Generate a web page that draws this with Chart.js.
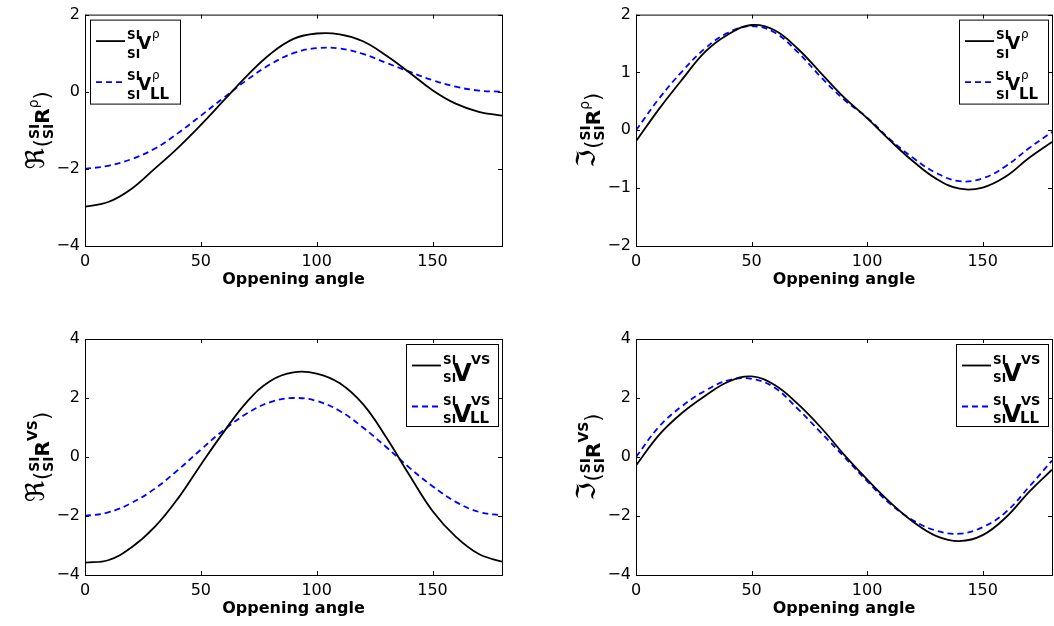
<!DOCTYPE html>
<html>
<head>
<meta charset="utf-8">
<script src="https://cdn.jsdelivr.net/npm/chart.js@4.4.1/dist/chart.umd.min.js"></script>
<style>
    html, body { margin: 0; padding: 0; background: #fff; width: 1054px; height: 626px; overflow: hidden; }
    canvas { position: absolute; }
</style>
</head>
<body>
<canvas id="reRho" width="527" height="313" style="left:0;top:0"></canvas>
<canvas id="imRho" width="527" height="313" style="left:527px;top:0"></canvas>
<canvas id="reVs" width="527" height="313" style="left:0;top:313px"></canvas>
<canvas id="imVs" width="527" height="313" style="left:527px;top:313px"></canvas>
<script>
// Opening angle samples (degrees)
const angles = [0, 10, 20, 30, 40, 50, 60, 70, 80, 90, 100, 110, 120, 130, 140, 150, 160, 170, 180];

// rho channel, real part
const reRhoFull = [-2.98, -2.86, -2.52, -2.0, -1.46, -0.86, -0.22, 0.42, 0.98, 1.37, 1.51, 1.49, 1.31, 0.94, 0.50, 0.04, -0.31, -0.52, -0.62];
const reRhoLL   = [-2.0, -1.92, -1.75, -1.48, -1.08, -0.62, -0.15, 0.31, 0.71, 1.0, 1.13, 1.12, 0.98, 0.75, 0.52, 0.30, 0.13, 0.03, 0.0];
// rho channel, imaginary part
const imRhoFull = [-0.19, 0.37, 0.88, 1.36, 1.66, 1.82, 1.73, 1.41, 0.99, 0.57, 0.21, -0.18, -0.54, -0.84, -1.01, -0.99, -0.80, -0.48, -0.20];
const imRhoLL   = [0.0, 0.55, 1.02, 1.42, 1.69, 1.80, 1.69, 1.35, 0.92, 0.53, 0.22, -0.16, -0.48, -0.74, -0.88, -0.83, -0.62, -0.31, -0.03];
// VS channel, real part
const reVsFull = [-3.58, -3.50, -3.07, -2.38, -1.42, -0.26, 0.86, 1.88, 2.58, 2.87, 2.83, 2.50, 1.79, 0.67, -0.61, -1.83, -2.70, -3.29, -3.55];
const reVsLL   = [-2.0, -1.88, -1.56, -1.08, -0.45, 0.25, 0.92, 1.48, 1.86, 2.0, 1.90, 1.56, 1.0, 0.34, -0.36, -0.99, -1.52, -1.86, -1.98];
// VS channel, imaginary part
const imVsFull = [-0.29, 0.75, 1.50, 2.08, 2.55, 2.73, 2.44, 1.80, 1.0, 0.08, -0.76, -1.54, -2.20, -2.68, -2.85, -2.65, -2.05, -1.19, -0.43];
const imVsLL   = [0.0, 1.03, 1.73, 2.25, 2.60, 2.65, 2.35, 1.63, 0.83, 0.01, -0.82, -1.59, -2.15, -2.50, -2.60, -2.38, -1.87, -1.02, -0.12];

// Tick labels
const xTicks = [0, 50, 100, 150];
const yTicksReRho = [-4, -2, 0, 2];
const yTicksImRho = [-2, -1, 0, 1, 2];
const yTicksVs = [-4, -2, 0, 2, 4];

const xTitle = 'Oppening angle';
const FONT = 'DejaVu Sans';

function fmt(v) {
    return v < 0 ? '\u2212' + Math.abs(v) : String(v);
}

// draw a run of pieces: {t, f, dy} placed left to right, {stack:[sup, sub]} takes the wider width
function pieceWidth(ctx, p) {
    if (p.stack) {
        return Math.max(...p.stack.map(q => { ctx.font = q.f; return ctx.measureText(q.t).width; }));
    }
    ctx.font = p.f;
    return ctx.measureText(p.t).width + (p.gap || 0);
}
function drawPieces(ctx, pieces, x, y) {
    let cx = x;
    pieces.forEach(p => {
        const w = pieceWidth(ctx, p);
        if (p.stack) {
            p.stack.forEach(q => { ctx.font = q.f; ctx.fillText(q.t, cx, y + q.dy); });
        } else {
            ctx.font = p.f;
            ctx.fillText(p.t, cx, y + (p.dy || 0));
        }
        cx += w;
    });
}

// Frame, inward ticks, axis titles and legend in the MATLAB look
const matlabFrame = {
    id: 'matlabFrame',
    afterDraw(chart, args, opts) {
        const { ctx, chartArea: { left, right, top, bottom } } = chart;
        const xs = chart.scales.x, ys = chart.scales.y;
        ctx.save();
        ctx.strokeStyle = '#000';
        ctx.lineWidth = 1;
        ctx.strokeRect(left + 0.5, top + 0.5, right - left, bottom - top);

        ctx.beginPath();
        xs.ticks.forEach(t => {
            const px = Math.round(xs.getPixelForValue(t.value)) + 0.5;
            ctx.moveTo(px, bottom); ctx.lineTo(px, bottom - 4);
            ctx.moveTo(px, top); ctx.lineTo(px, top + 4);
        });
        ys.ticks.forEach(t => {
            const py = Math.round(ys.getPixelForValue(t.value)) + 0.5;
            ctx.moveTo(left, py); ctx.lineTo(left + 4, py);
            ctx.moveTo(right, py); ctx.lineTo(right - 4, py);
        });
        ctx.stroke();

        // x title
        ctx.fillStyle = '#000';
        ctx.font = 'bold 16px ' + FONT;
        ctx.textAlign = 'center';
        ctx.textBaseline = 'middle';
        ctx.fillText(xTitle, (left + right) / 2, bottom + 34);

        // y title, rotated
        ctx.textAlign = 'left';
        ctx.textBaseline = 'alphabetic';
        const yl = opts.yLabel;
        const total = yl.reduce((s, p) => s + pieceWidth(ctx, p), 0);
        ctx.save();
        ctx.translate(left - 36, (top + bottom) / 2);
        ctx.rotate(-Math.PI / 2);
        drawPieces(ctx, yl, -total / 2, 0);
        ctx.restore();

        // legend box
        const lg = opts.legend;
        const bx = lg.side === 'left' ? left + 5 : right - 4 - lg.w;
        const by = top + 5;
        ctx.fillStyle = '#fff';
        ctx.fillRect(bx, by, lg.w, lg.h);
        ctx.strokeStyle = '#000';
        ctx.strokeRect(bx + 0.5, by + 0.5, lg.w, lg.h);
        chart.data.datasets.forEach((ds, i) => {
            const oy = by + i * 41;
            ctx.save();
            ctx.strokeStyle = ds.borderColor;
            ctx.lineWidth = ds.borderWidth;
            ctx.setLineDash(ds.borderDash || []);
            ctx.beginPath();
            ctx.moveTo(bx + 6, oy + 21.5);
            ctx.lineTo(bx + 35, oy + 21.5);
            ctx.stroke();
            ctx.restore();
            ctx.fillStyle = '#000';
            lg.entries[i].forEach(p => {
                ctx.font = p.f;
                ctx.fillText(p.t, bx + p.x, oy + p.y);
            });
        });
        ctx.restore();
    }
};

const supF = 'bold 12px ' + FONT;
const subLL = 'bold 15px ' + FONT;
const rhoF = '12px ' + FONT;

function rhoEntries() {
    const base = [
        { t: 'SI', f: supF, x: 37, y: 19 },
        { t: 'SI', f: supF, x: 37, y: 38 },
        { t: 'V', f: 'bold 17px ' + FONT, x: 48, y: 29 },
        { t: '\u03c1', f: rhoF, x: 62, y: 18 }
    ];
    return [base, base.concat([{ t: 'LL', f: subLL, x: 60, y: 38 }])];
}
function vsEntries() {
    const base = [
        { t: 'SI', f: supF, x: 37, y: 20 },
        { t: 'SI', f: supF, x: 37, y: 38 },
        { t: 'V', f: 'bold 24px ' + FONT, x: 47, y: 37 },
        { t: 'VS', f: 'bold 13px ' + FONT, x: 65, y: 20 }
    ];
    return [base, base.concat([{ t: 'LL', f: subLL, x: 64, y: 38 }])];
}

function yLabel(sym, sup) {
    const supPiece = sup === 'rho'
        ? { t: '\u03c1', f: '14px ' + FONT, dy: -11 }
        : { t: 'VS', f: 'bold 14px ' + FONT, dy: -12 };
    return [
        { t: sym, f: '26px ' + FONT, dy: -5, gap: 1 },
        { t: '(', f: '21px ' + FONT, dy: 0 },
        { stack: [{ t: 'SI', f: 'bold 14px ' + FONT, dy: -10 }, { t: 'SI', f: 'bold 14px ' + FONT, dy: 4 }] },
        { t: 'R', f: 'bold 20px ' + FONT, dy: 0 },
        supPiece,
        { t: ')', f: '21px ' + FONT, dy: 0 }
    ];
}

function makePanel(id, full, ll, yMin, yMax, yTicks, pad, legend, yLab) {
    return new Chart(document.getElementById(id), {
        type: 'line',
        data: {
            datasets: [{
                label: 'SI SI V',
                data: angles.map((a, i) => ({ x: a, y: full[i] })),
                borderColor: '#000000',
                borderWidth: 1.8,
                pointRadius: 0,
                tension: 0.4,
                fill: false
            }, {
                label: 'SI SI V LL',
                data: angles.map((a, i) => ({ x: a, y: ll[i] })),
                borderColor: '#0000ff',
                borderWidth: 1.8,
                borderDash: [6, 4],
                pointRadius: 0,
                tension: 0.4,
                fill: false
            }]
        },
        options: {
            responsive: false,
            animation: false,
            layout: { padding: { left: 0, right: pad.r, top: pad.t, bottom: 0 } },
            plugins: {
                legend: { display: false },
                tooltip: { enabled: false },
                matlabFrame: { legend: legend, yLabel: yLab }
            },
            scales: {
                x: {
                    type: 'linear', min: 0, max: 180,
                    afterBuildTicks: s => { s.ticks = xTicks.map(v => ({ value: v })); },
                    afterFit: s => { s.height = pad.xh; },
                    grid: { display: false, drawTicks: false },
                    border: { display: false },
                    ticks: { color: '#000', font: { family: FONT, size: 16 }, padding: 6, maxRotation: 0, autoSkip: false, callback: fmt }
                },
                y: {
                    type: 'linear', min: yMin, max: yMax,
                    afterBuildTicks: s => { s.ticks = yTicks.map(v => ({ value: v })); },
                    afterFit: s => { s.width = pad.yw; },
                    grid: { display: false, drawTicks: false },
                    border: { display: false },
                    ticks: { color: '#000', font: { family: FONT, size: 16 }, padding: 5, autoSkip: false, callback: fmt }
                }
            }
        },
        plugins: [matlabFrame]
    });
}

makePanel('reRho', reRhoFull, reRhoLL, -4, 2, yTicksReRho,
    { r: 25, t: 9, xh: 67, yw: 85 },
    { side: 'left', w: 90, h: 84, entries: rhoEntries() }, yLabel('\u211c', 'rho'));
makePanel('imRho', imRhoFull, imRhoLL, -2, 2, yTicksImRho,
    { r: 2, t: 9, xh: 67, yw: 109 },
    { side: 'right', w: 89, h: 84, entries: rhoEntries() }, yLabel('\u2111', 'rho'));
makePanel('reVs', reVsFull, reVsLL, -4, 4, yTicksVs,
    { r: 25, t: 26, xh: 51, yw: 85 },
    { side: 'right', w: 92, h: 82, entries: vsEntries() }, yLabel('\u211c', 'vs'));
makePanel('imVs', imVsFull, imVsLL, -4, 4, yTicksVs,
    { r: 2, t: 26, xh: 51, yw: 109 },
    { side: 'right', w: 92, h: 82, entries: vsEntries() }, yLabel('\u2111', 'vs'));
</script>
</body>
</html>
